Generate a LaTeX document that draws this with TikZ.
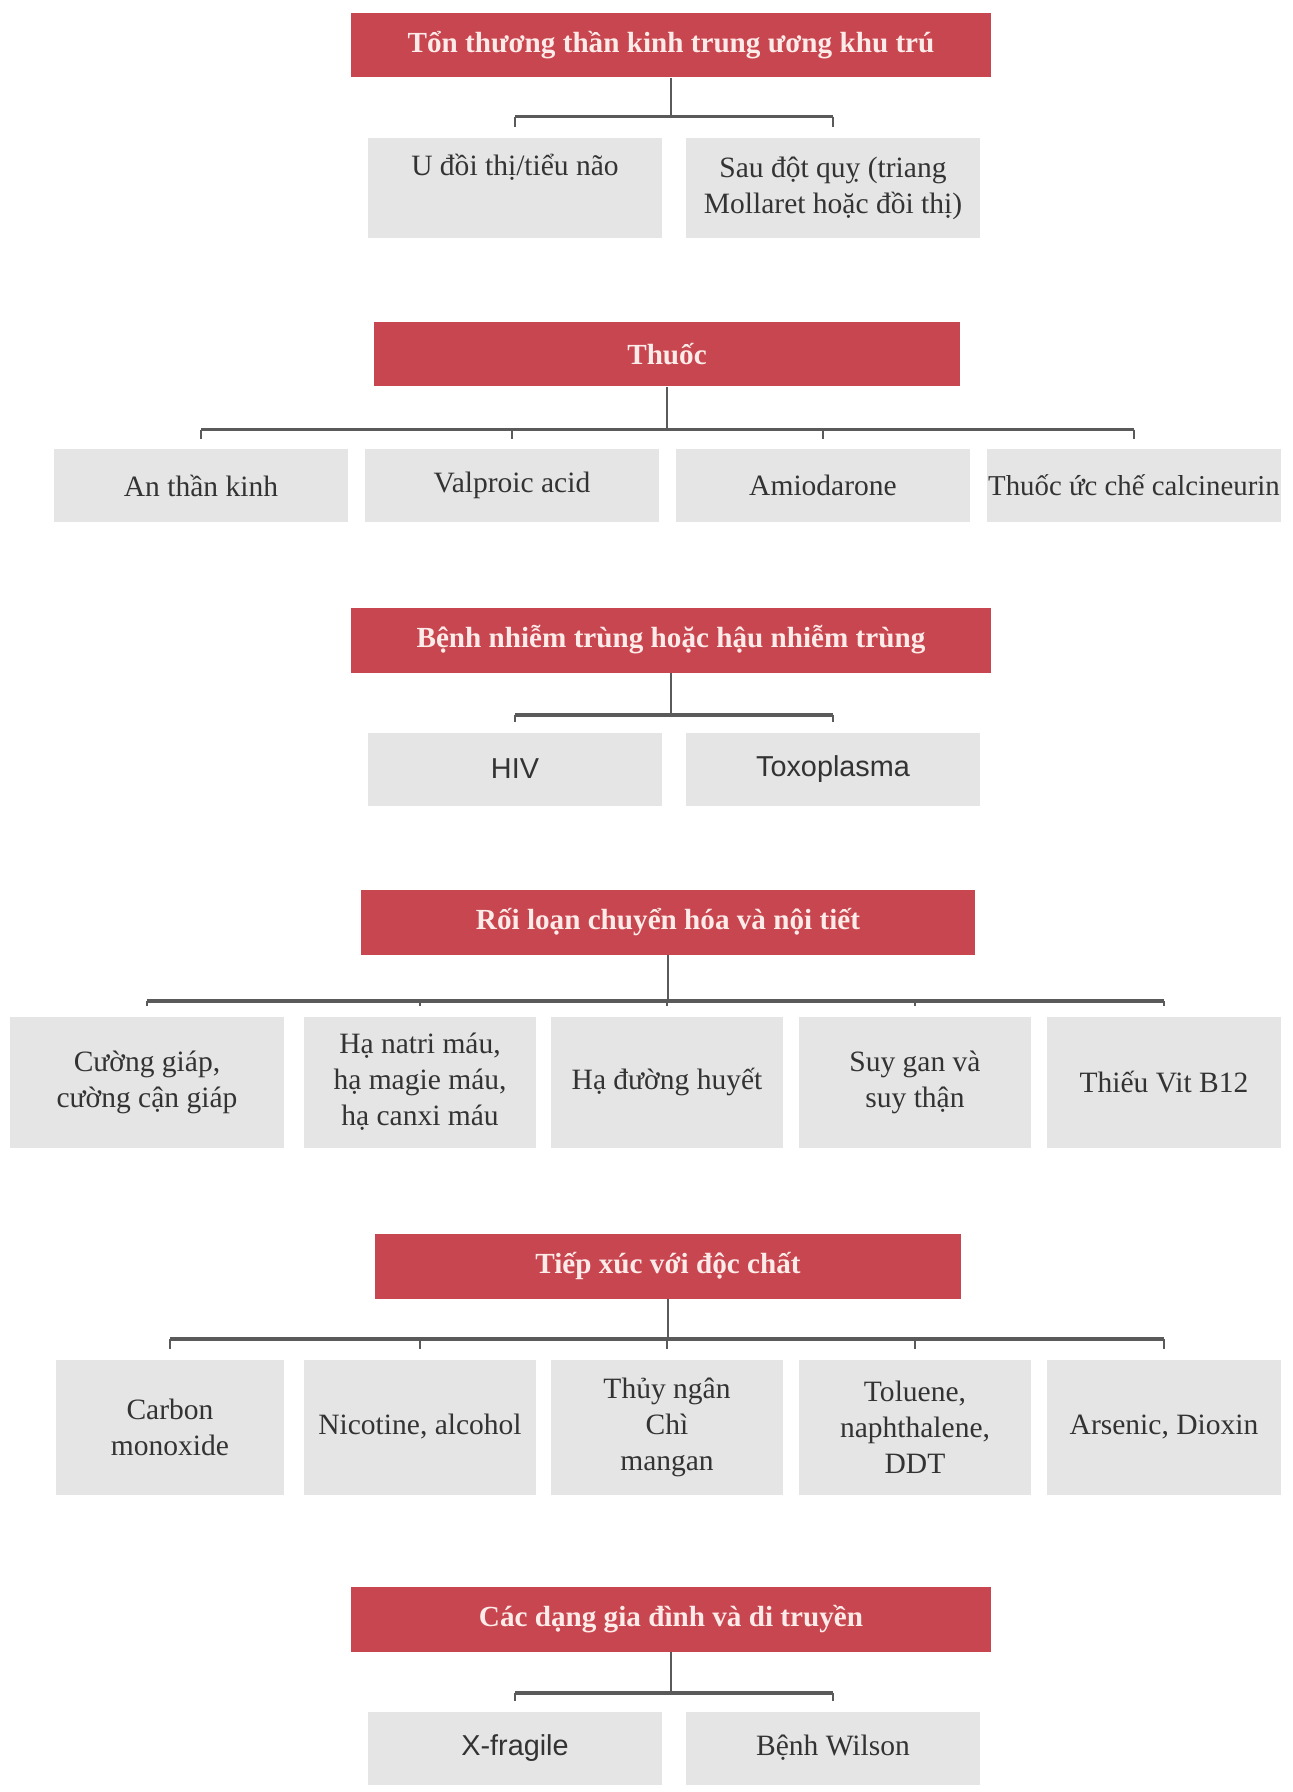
\documentclass[tikz,border=0pt]{standalone}
\usepackage{fontspec}
\setmainfont{Liberation Serif}
\setsansfont{Liberation Sans}
\usetikzlibrary{calc}
\definecolor{headred}{HTML}{C8464F}
\definecolor{headtext}{HTML}{FCEBE8}
\definecolor{itemgray}{HTML}{E5E5E5}
\definecolor{ink}{HTML}{333333}
\definecolor{linegray}{HTML}{5A5A5A}
\tikzset{
  headcard/.style={fill=headred,draw=none,text=headtext,align=center,inner sep=3pt,minimum height=1.3cm,font=\fontsize{16.6}{19}\selectfont\bfseries},
  itemcard/.style={fill=itemgray,draw=none,text=ink,align=center,inner sep=3pt,font=\fontsize{16.8}{20.5}\selectfont},
  itemsans/.style={itemcard,font=\sffamily\fontsize{16.4}{19}\selectfont},
  stemline/.style={draw=linegray,line width=1.2pt},
  barline/.style={draw=linegray,line width=1.8pt},
  tickline/.style={draw=linegray,line width=0.8pt}
}
\begin{document}
\begin{tikzpicture}[x=0.02cm,y=-0.02cm]
  \fill[white] (0,0) rectangle (1292,1792);
  \useasboundingbox (0,0) rectangle (1292,1792);

  % Ton thuong than kinh
  \node[headcard,minimum width=12.82cm] (h1) at (671,45) {Tổn thương thần kinh trung ương khu trú};
  \node[itemcard,minimum width=5.9cm,minimum height=2.02cm] (h1a) at (515,188) {U đồi thị/tiểu não\\\strut};
  \node[itemcard,minimum width=5.9cm,minimum height=2.02cm] (h1b) at (833,188) {Sau đột quỵ (triang\\Mollaret hoặc đồi thị)};
  \coordinate (b1) at (671,116.5);
  \draw[stemline] (h1.south) -- (b1); \draw[barline] (h1a |- b1) -- (h1b |- b1);
  \draw[tickline] (h1a |- b1) -- ([yshift=0.2cm]h1a.north); \draw[tickline] (h1b |- b1) -- ([yshift=0.2cm]h1b.north);

  % Thuoc
  \node[headcard,minimum width=11.74cm] (h2) at (667,354) {Thuốc};
  \node[itemcard,minimum width=5.88cm,minimum height=1.46cm] (h2a) at (201,485.5) {An thần kinh};
  \node[itemcard,minimum width=5.88cm,minimum height=1.46cm] (h2b) at (512,485.5) {Valproic acid};
  \node[itemcard,minimum width=5.88cm,minimum height=1.46cm] (h2c) at (823,485.5) {Amiodarone};
  \node[itemcard,minimum width=5.88cm,minimum height=1.46cm,inner xsep=0pt,font=\fontsize{16.4}{20.5}\selectfont] (h2d) at (1134,485.5) {Thuốc ức chế calcineurin};
  \coordinate (b2) at (667,429.5);
  \draw[stemline] (h2.south) -- (b2); \draw[barline] (h2a |- b2) -- (h2d |- b2);
  \draw[tickline] (h2a |- b2) -- ([yshift=0.2cm]h2a.north); \draw[tickline] (h2b |- b2) -- ([yshift=0.2cm]h2b.north);
  \draw[tickline] (h2c |- b2) -- ([yshift=0.2cm]h2c.north); \draw[tickline] (h2d |- b2) -- ([yshift=0.2cm]h2d.north);

  % Nhiem trung
  \node[headcard,minimum width=12.82cm] (h3) at (671,640) {Bệnh nhiễm trùng hoặc hậu nhiễm trùng};
  \node[itemsans,minimum width=5.9cm,minimum height=1.46cm] (h3a) at (515,769) {HIV};
  \node[itemsans,minimum width=5.9cm,minimum height=1.46cm] (h3b) at (833,769) {Toxoplasma};
  \coordinate (b3) at (671,715);
  \draw[stemline] (h3.south) -- (b3); \draw[barline] (h3a |- b3) -- (h3b |- b3);
  \draw[tickline] (h3a |- b3) -- ([yshift=0.2cm]h3a.north); \draw[tickline] (h3b |- b3) -- ([yshift=0.2cm]h3b.north);

  % Chuyen hoa, noi tiet
  \node[headcard,minimum width=12.3cm] (h4) at (668,922) {Rối loạn chuyển hóa và nội tiết};
  \node[itemcard,minimum width=5.48cm,minimum height=2.62cm] (h4a) at (147,1082) {Cường giáp,\\cường cận giáp};
  \node[itemcard,minimum width=4.64cm,minimum height=2.62cm] (h4b) at (420,1082) {Hạ natri máu,\\hạ magie máu,\\hạ canxi máu};
  \node[itemcard,minimum width=4.64cm,minimum height=2.62cm] (h4c) at (667,1082) {Hạ đường huyết};
  \node[itemcard,minimum width=4.64cm,minimum height=2.62cm] (h4d) at (915,1082) {Suy gan và\\suy thận};
  \node[itemcard,minimum width=4.7cm,minimum height=2.62cm] (h4e) at (1164,1082) {Thiếu Vit B12};
  \coordinate (b4) at (668,1001);
  \draw[stemline] (h4.south) -- (b4); \draw[barline] (h4a |- b4) -- (h4e |- b4);
  \draw[tickline] (h4a |- b4) -- ([yshift=0.2cm]h4a.north); \draw[tickline] (h4b |- b4) -- ([yshift=0.2cm]h4b.north);
  \draw[tickline] (h4c |- b4) -- ([yshift=0.2cm]h4c.north); \draw[tickline] (h4d |- b4) -- ([yshift=0.2cm]h4d.north);
  \draw[tickline] (h4e |- b4) -- ([yshift=0.2cm]h4e.north);

  % Doc chat
  \node[headcard,minimum width=11.74cm] (h5) at (668,1266) {Tiếp xúc với độc chất};
  \node[itemcard,minimum width=4.56cm,minimum height=2.7cm] (h5a) at (170,1427) {Carbon\\monoxide};
  \node[itemcard,minimum width=4.64cm,minimum height=2.7cm] (h5b) at (420,1427) {Nicotine, alcohol};
  \node[itemcard,minimum width=4.64cm,minimum height=2.7cm] (h5c) at (667,1427) {Thủy ngân\\Chì\\mangan};
  \node[itemcard,minimum width=4.64cm,minimum height=2.7cm] (h5d) at (915,1427) {Toluene,\\naphthalene,\\DDT};
  \node[itemcard,minimum width=4.7cm,minimum height=2.7cm] (h5e) at (1164,1427) {Arsenic, Dioxin};
  \coordinate (b5) at (668,1339);
  \draw[stemline] (h5.south) -- (b5); \draw[barline] (h5a |- b5) -- (h5e |- b5);
  \draw[tickline] (h5a |- b5) -- ([yshift=0.2cm]h5a.north); \draw[tickline] (h5b |- b5) -- ([yshift=0.2cm]h5b.north);
  \draw[tickline] (h5c |- b5) -- ([yshift=0.2cm]h5c.north); \draw[tickline] (h5d |- b5) -- ([yshift=0.2cm]h5d.north);
  \draw[tickline] (h5e |- b5) -- ([yshift=0.2cm]h5e.north);

  % Di truyen
  \node[headcard,minimum width=12.82cm] (h6) at (671,1619) {Các dạng gia đình và di truyền};
  \node[itemsans,minimum width=5.9cm,minimum height=1.46cm] (h6a) at (515,1748) {X-fragile};
  \node[itemcard,minimum width=5.9cm,minimum height=1.46cm] (h6b) at (833,1748) {Bệnh Wilson};
  \coordinate (b6) at (671,1693);
  \draw[stemline] (h6.south) -- (b6); \draw[barline] (h6a |- b6) -- (h6b |- b6);
  \draw[tickline] (h6a |- b6) -- ([yshift=0.2cm]h6a.north); \draw[tickline] (h6b |- b6) -- ([yshift=0.2cm]h6b.north);
\end{tikzpicture}
\end{document}
